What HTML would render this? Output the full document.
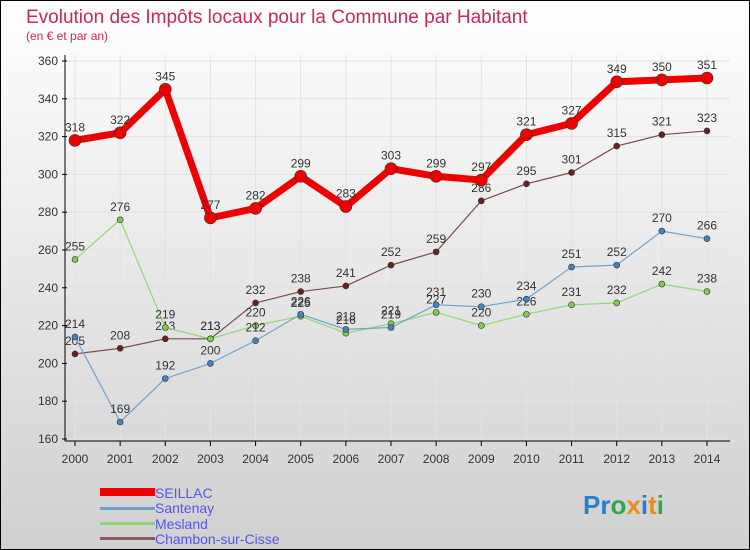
<!DOCTYPE html>
<html><head><meta charset="utf-8"><style>
body{margin:0}
svg{display:block;font-family:"Liberation Sans",sans-serif}
</style></head><body>
<svg id="c" width="750" height="550">
<defs><linearGradient id="bg" x1="0" y1="0" x2="0" y2="1"><stop offset="0" stop-color="#ffffff"/><stop offset="1" stop-color="#d0d0d0"/></linearGradient></defs>
<rect x="0.5" y="0.5" width="749" height="549" fill="url(#bg)" stroke="#000"/>
<text x="26" y="23" font-size="19" fill="#c8285a">Evolution des Impôts locaux pour la Commune par Habitant</text>
<text x="26" y="40" font-size="12" fill="#c8285a">(en € et par an)</text>
<g id="grid"></g><g id="axes"></g><g id="series"></g>
<g>
<rect x="100" y="488" width="55" height="8" fill="#ee0000"/>
<text x="155" y="498" font-size="14" fill="#5555ee">SEILLAC</text>
<rect x="100" y="507" width="55" height="3" fill="#6f9fc8"/>
<text x="155" y="513" font-size="14" fill="#5555ee">Santenay</text>
<rect x="100" y="522" width="55" height="3" fill="#8ed672"/>
<text x="155" y="529" font-size="14" fill="#5555ee">Mesland</text>
<rect x="100" y="537" width="55" height="3" fill="#8b5a5a"/>
<text x="155" y="544" font-size="14" fill="#5555ee">Chambon-sur-Cisse</text>
</g>
<text x="583" y="514" font-size="26" font-weight="bold"><tspan fill="#2a7fd0">Pr</tspan><tspan fill="#2da84a">o</tspan><tspan fill="#f08a1c">x</tspan><tspan fill="#2a7fd0">i</tspan><tspan fill="#f08a1c">t</tspan><tspan fill="#2da84a">i</tspan></text>
</svg>
<script>
const years=[2000,2001,2002,2003,2004,2005,2006,2007,2008,2009,2010,2011,2012,2013,2014];
const yTicks=[160,180,200,220,240,260,280,300,320,340,360];
const seillac=[318,322,345,277,282,299,283,303,299,297,321,327,349,350,351];
const santenay=[214,169,192,200,212,226,218,219,231,230,234,251,252,270,266];
const mesland=[255,276,219,213,220,225,216,221,227,220,226,231,232,242,238];
const chambon=[205,208,213,213,232,238,241,252,259,286,295,301,315,321,323];
const NS='http://www.w3.org/2000/svg';
const x=i=>75+i*(707-75)/(years.length-1);
const y=v=>439-(v-160)*(439-61)/200;
function el(t,a,p){const e=document.createElementNS(NS,t);for(const k in a)e.setAttribute(k,a[k]);p.appendChild(e);return e;}
const grid=document.getElementById('grid'),axes=document.getElementById('axes'),ser=document.getElementById('series');
yTicks.forEach(v=>{
 const g=el('line',{x1:65,x2:730,y1:y(v),y2:y(v),stroke:'#e2e2e2'},grid);
 
 const t=el('text',{x:58,y:y(v)+4,'font-size':12,'text-anchor':'end',fill:'#333'},axes);t.textContent=v;
 
 el('line',{x1:62,x2:67,y1:y(v),y2:y(v),stroke:'#000'},axes);
});
years.forEach((yr,i)=>{
 const g=el('line',{x1:x(i),x2:x(i),y1:55,y2:441,stroke:'#e2e2e2'},grid);
 
 el('line',{x1:x(i),x2:x(i),y1:441,y2:446,stroke:'#000'},axes);
 const t=el('text',{x:x(i),y:463,'font-size':12,'text-anchor':'middle',fill:'#333'},axes);t.textContent=yr;
 
});
const ya=el('line',{x1:65,x2:65,y1:55,y2:441,stroke:'#000'},axes);

const xa=el('line',{x1:65,x2:730,y1:441,y2:441,stroke:'#000'},axes);

function draw(name,data,color,w,r,dot){
 const g=el('g',{},ser);
 const p=el('polyline',{points:data.map((v,i)=>x(i)+','+y(v)).join(' '),fill:'none',stroke:color,'stroke-width':w,'stroke-linejoin':'round'},g);
 
 data.forEach((v,i)=>{
  const c=el('circle',{cx:x(i),cy:y(v),r:r,fill:dot,stroke:'#333','stroke-width':0.6},g);
  
  const t=el('text',{x:x(i),y:y(v)-9,'font-size':12,'text-anchor':'middle',fill:'#333'},g);t.textContent=v;
  
 });
}
draw('chambon',chambon,'#7b4a4a',1.2,3,'#6b1f1f');
draw('mesland',mesland,'#90d870',1.2,3,'#7ccf4e');
draw('santenay',santenay,'#6fa3d0',1.2,3,'#3f86c8');
draw('seillac',seillac,'#ee0000',7,6,'#ee0000');
</script>
</body></html>
